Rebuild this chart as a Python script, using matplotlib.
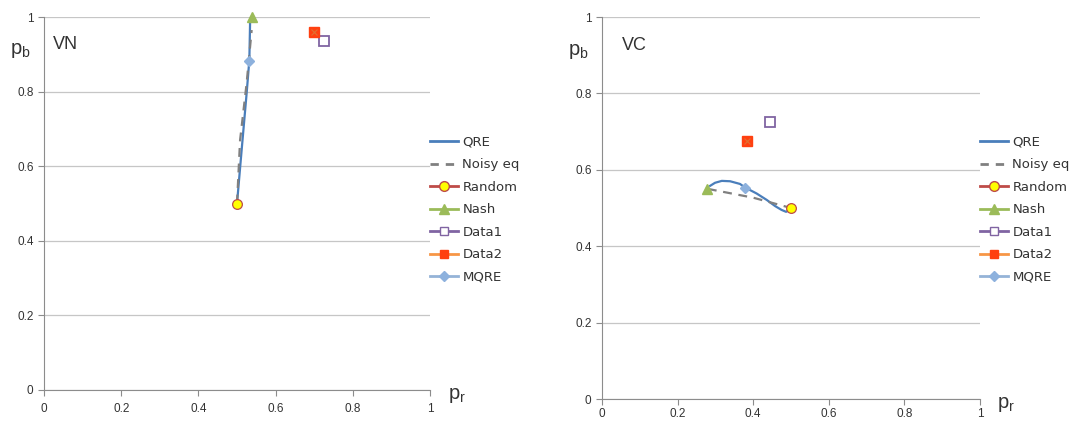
import matplotlib
matplotlib.use("Agg")
import matplotlib.pyplot as plt
from matplotlib.lines import Line2D

# ---- data ----
ticks = [0, 0.2, 0.4, 0.6, 0.8, 1]
tick_labels = ["0", "0.2", "0.4", "0.6", "0.8", "1"]
legend_labels = ["QRE", "Noisy eq", "Random", "Nash", "Data1", "Data2", "MQRE"]

# VN panel
vn_qre_x = [0.5, 0.512, 0.525, 0.532, 0.534, 0.536]
vn_qre_y = [0.5, 0.643, 0.796, 0.885, 0.99, 1.0]
vn_noisy_x = [0.5, 0.508, 0.525, 0.538]
vn_noisy_y = [0.5, 0.67, 0.823, 0.965]
vn_random = (0.5, 0.5)
vn_nash = (0.538, 1.0)
vn_data1 = (0.725, 0.936)
vn_data2 = (0.70, 0.96)
vn_mqre = (0.531, 0.882)

# VC panel
vc_qre_x = [0.286, 0.299, 0.317, 0.339, 0.365, 0.378, 0.409, 0.436, 0.458, 0.475, 0.487, 0.497, 0.5]
vc_qre_y = [0.558, 0.566, 0.571, 0.570, 0.563, 0.554, 0.538, 0.521, 0.505, 0.495, 0.490, 0.495, 0.5]
vc_noisy_x = [0.28, 0.40, 0.5]
vc_noisy_y = [0.55, 0.527, 0.5]
vc_random = (0.5, 0.5)
vc_nash = (0.277, 0.55)
vc_data1 = (0.444, 0.725)
vc_data2 = (0.384, 0.675)
vc_mqre = (0.378, 0.552)

QRE = "#4a7ebb"; NOISY = "#808080"; RAND_L = "#be4b48"; NASH = "#9bbb59"
D1 = "#8064a2"; D2_L = "#f79646"; D2_M = "#ff4010"; MQ = "#95b3d7"; MQ_M = "#8db1dd"
GRID = "#c6c6c6"; SPINE = "#8c8c8c"; TXT = "#333333"

fig = plt.figure(figsize=(10.71, 4.21), dpi=100)
fig.patch.set_facecolor("white")

panels = [
    ([44/1071, 1-390/421, 386/1071, 373/421], "VN", 0.023, 0.483, 5,
     vn_qre_x, vn_qre_y, vn_noisy_x, vn_noisy_y, vn_random, vn_nash, vn_data1, vn_data2, vn_mqre),
    ([602/1071, 1-399/421, 378/1071, 382/421], "VC", 0.053, 0.495, 2.5,
     vc_qre_x, vc_qre_y, vc_noisy_x, vc_noisy_y, vc_random, vc_nash, vc_data1, vc_data2, vc_mqre),
]

for rect, name, name_x, leg_y, xpad, qx, qy, nx, ny, rnd, nash, d1, d2, mq in panels:
    ax = fig.add_axes(rect)
    ax.set_xlim(0, 1); ax.set_ylim(0, 1)
    ax.set_xticks(ticks); ax.set_xticklabels(tick_labels)
    ax.set_yticks(ticks); ax.set_yticklabels(tick_labels)
    ax.grid(axis="y", color=GRID, lw=0.9)
    ax.set_axisbelow(True)
    for s in ["top", "right"]:
        ax.spines[s].set_visible(False)
    for s in ["left", "bottom"]:
        ax.spines[s].set_color(SPINE); ax.spines[s].set_linewidth(0.8)
    ax.tick_params(colors=SPINE, labelcolor=TXT, labelsize=8.5, length=4, width=0.8, direction="out")
    ax.tick_params(axis="x", pad=xpad)
    for lab in ax.get_xticklabels() + ax.get_yticklabels():
        lab.set_family("Liberation Sans")

    ax.plot(qx, qy, color=QRE, lw=1.6, zorder=3)
    ax.plot(nx, ny, color=NOISY, lw=1.6, ls=(0, (4, 3)), zorder=3)
    ax.plot(*rnd, marker="o", ms=7, mfc="#ffff00", mec=RAND_L, mew=0.9, ls="none", zorder=5, clip_on=False)
    ax.plot(*nash, marker="^", ms=7.5, mfc=NASH, mec=NASH, ls="none", zorder=5, clip_on=False)
    ax.plot(*d1, marker="s", ms=6.5, mfc="white", mec=D1, mew=1.3, ls="none", zorder=5)
    ax.plot(*d2, marker="s", ms=6.5, mfc=D2_M, mec=D2_M, ls="none", zorder=5)
    ax.plot(*d2, marker="x", ms=5, mec="#e07030", mew=0.8, ls="none", zorder=6)
    ax.plot(*mq, marker="D", ms=5.5, mfc=MQ_M, mec=MQ_M, ls="none", zorder=6)

    ax.text(name_x, 0.925, name, transform=ax.transAxes, fontsize=13, color=TXT,
            family="Liberation Sans", va="center", ha="left")
    ax.text(-0.062, 0.91, r"p$_\mathregular{b}$", transform=ax.transAxes, fontsize=14.5,
            color=TXT, family="Liberation Sans", ha="center", va="center")
    ax.text(1.07, -0.015, r"p$_\mathregular{r}$", transform=ax.transAxes, fontsize=14.5,
            color=TXT, family="Liberation Sans", ha="center", va="center")

    handles = [
        Line2D([], [], color=QRE, lw=2),
        Line2D([], [], color=NOISY, lw=2, ls=(0, (3, 2.5))),
        Line2D([], [], color=RAND_L, lw=2, marker="o", ms=7, mfc="#ffff00", mec=RAND_L),
        Line2D([], [], color=NASH, lw=2, marker="^", ms=7, mfc=NASH, mec=NASH),
        Line2D([], [], color=D1, lw=2, marker="s", ms=6, mfc="white", mec=D1),
        Line2D([], [], color=D2_L, lw=2, marker="s", ms=6, mfc=D2_M, mec=D2_M),
        Line2D([], [], color=MQ, lw=2, marker="D", ms=5, mfc=MQ_M, mec=MQ_M),
    ]
    leg = ax.legend(handles, legend_labels, loc="center left",
                    bbox_to_anchor=(1.0, leg_y),
                    frameon=False, labelspacing=0.72, handlelength=2.15,
                    handletextpad=0.3, borderaxespad=0, borderpad=0,
                    prop={"family": "DejaVu Sans", "size": 9.5})
    for t in leg.get_texts():
        t.set_color(TXT)

fig.savefig("out.png", dpi=100, facecolor="white")
